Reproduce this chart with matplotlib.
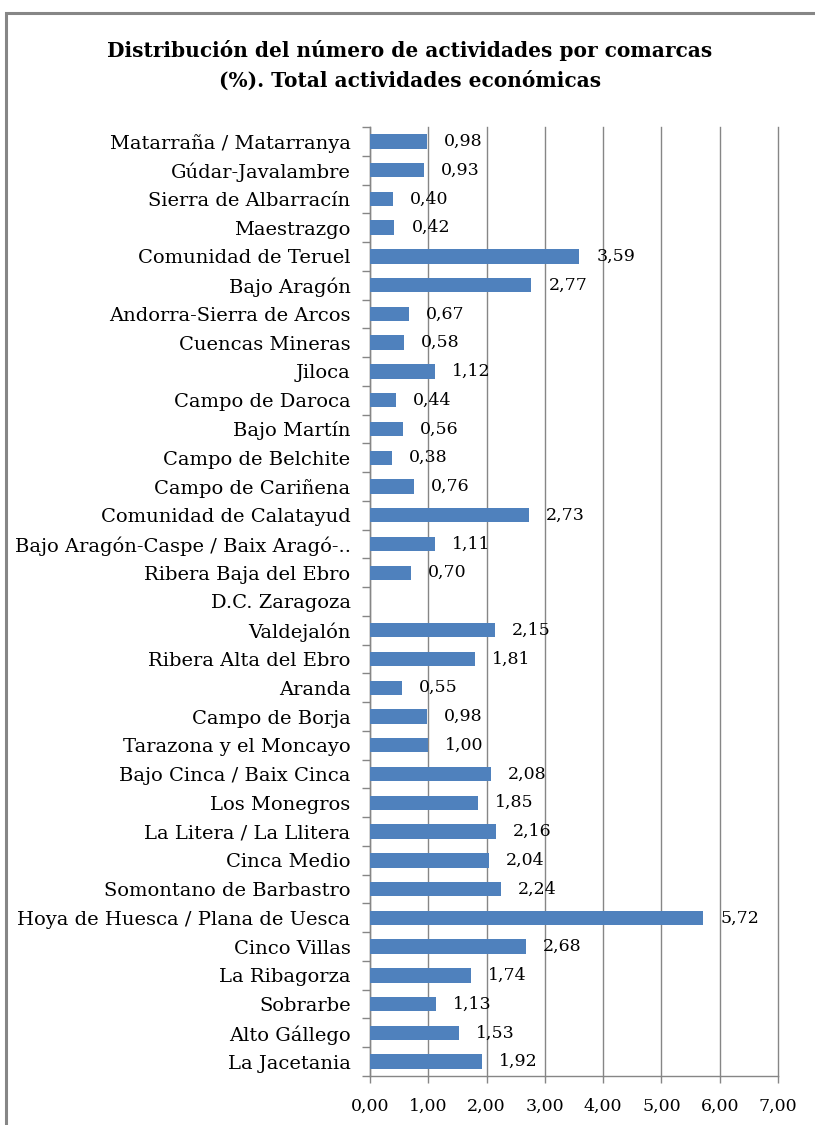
import numpy as np
import matplotlib
matplotlib.use("Agg")
import matplotlib.pyplot as plt
from matplotlib.patches import Rectangle

categories = [
    "Matarraña / Matarranya", "Gúdar-Javalambre", "Sierra de Albarracín", "Maestrazgo",
    "Comunidad de Teruel", "Bajo Aragón", "Andorra-Sierra de Arcos", "Cuencas Mineras",
    "Jiloca", "Campo de Daroca", "Bajo Martín", "Campo de Belchite", "Campo de Cariñena",
    "Comunidad de Calatayud", "Bajo Aragón-Caspe / Baix Aragó-..", "Ribera Baja del Ebro",
    "D.C. Zaragoza", "Valdejalón", "Ribera Alta del Ebro", "Aranda", "Campo de Borja",
    "Tarazona y el Moncayo", "Bajo Cinca / Baix Cinca", "Los Monegros",
    "La Litera / La Llitera", "Cinca Medio", "Somontano de Barbastro",
    "Hoya de Huesca / Plana de Uesca", "Cinco Villas", "La Ribagorza", "Sobrarbe",
    "Alto Gállego", "La Jacetania",
]
values = [
    0.98, 0.93, 0.40, 0.42, 3.59, 2.77, 0.67, 0.58, 1.12, 0.44, 0.56, 0.38, 0.76,
    2.73, 1.11, 0.70, np.nan, 2.15, 1.81, 0.55, 0.98, 1.00, 2.08, 1.85, 2.16, 2.04,
    2.24, 5.72, 2.68, 1.74, 1.13, 1.53, 1.92,
]
x_ticks = [0, 1, 2, 3, 4, 5, 6, 7]
title = "Distribución del número de actividades por comarcas\n(%). Total actividades económicas"

plt.rcParams['font.family'] = ['DejaVu Serif']

W, H = 815, 1125
fig = plt.figure(figsize=(W / 100, H / 100), dpi=100)

# outer border
fig.patches.append(Rectangle((6 / W, -0.05), 1.2, 1 - 13 / H + 0.05, transform=fig.transFigure,
                             fill=False, edgecolor="#868686", linewidth=2.2, zorder=0))

ax = fig.add_axes([370 / W, 1 - 1076 / H, (778 - 370) / W, (1076 - 127) / H])

n = len(categories)
ypos = np.arange(n)[::-1]
vals = np.array(values, dtype=float)
ax.barh(ypos, np.nan_to_num(vals), height=0.5, color="#4F81BD", zorder=3)

for y, v in zip(ypos, vals):
    if np.isnan(v):
        continue
    ax.text(v + 0.29, y, f"{v:.2f}".replace(".", ","), va="center", ha="left",
            fontsize=12.5, color="black", zorder=4)

ax.set_xlim(0, 7)
ax.set_ylim(-0.5, n - 0.5)
ax.set_xticks(x_ticks)
ax.set_xticklabels([f"{t:.2f}".replace(".", ",") for t in x_ticks], fontsize=12.5)
ax.tick_params(axis="x", length=5, width=1, color="#868686", pad=11, direction="out")

# y: major ticks at boundaries (no labels), minor ticks at centers with labels
ax.set_yticks(np.arange(-0.5, n, 1.0))
ax.set_yticklabels([])
ax.set_yticks(ypos, minor=True)
ax.set_yticklabels(categories, minor=True, fontsize=14)
ax.tick_params(axis="y", which="major", length=6, width=1, color="#868686", direction="out")
ax.tick_params(axis="y", which="minor", length=0, pad=14)

ax.grid(axis="x", color="#868686", linewidth=1, zorder=0)
for gl in ax.get_xgridlines():
    gl.set_clip_on(False)
for s in ["top", "right"]:
    ax.spines[s].set_visible(False)
for s in ["left", "bottom"]:
    ax.spines[s].set_color("#868686")
    ax.spines[s].set_linewidth(1)

fig.text(410 / W, 1 - 65 / H, title, ha="center", va="center", fontsize=14.5,
         fontweight="bold", linespacing=1.6)

fig.savefig("out.png", dpi=100)
